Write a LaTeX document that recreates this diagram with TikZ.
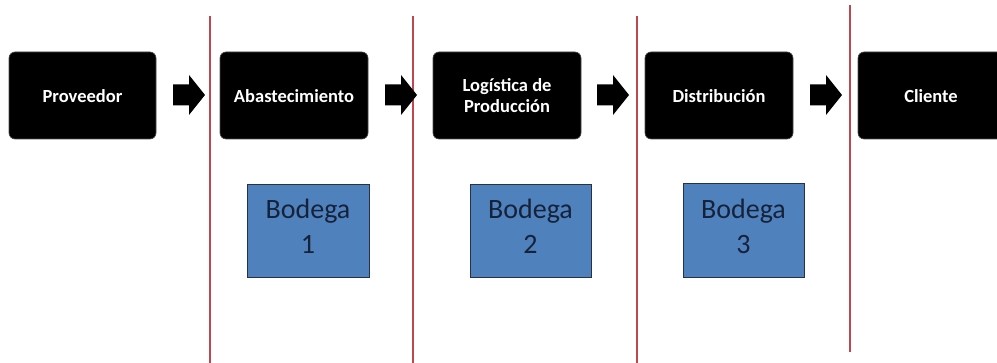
\documentclass[tikz,border=0pt]{standalone}
\usepackage{fontspec}
\setmainfont{Carlito}
\definecolor{sepred}{RGB}{192,70,80}
\definecolor{bodfill}{RGB}{79,129,189}
\definecolor{bodline}{RGB}{40,50,70}
\definecolor{bodtext}{RGB}{22,34,58}
\tikzset{
  stagebox/.style={fill=black, draw=black!70, line width=0.6pt, rounded corners=6pt},
  stagetext/.style={text=white, font=\fontsize{18.5}{21}\selectfont\bfseries, align=center},
  bodbox/.style={fill=bodfill, draw=bodline, line width=0.8pt},
  bodtxt/.style={text=bodtext, font=\fontsize{28}{35}\selectfont, align=center},
  sepline/.style={draw=sepred, line width=1.1pt},
  pics/blockarrow/.style={code={
    \fill[black] (0,-10.5) -- (16,-10.5) -- (16,-20) -- (32,0) -- (16,20) -- (16,10.5) -- (0,10.5) -- cycle;
  }}
}
\begin{document}
\begin{tikzpicture}[x=1pt,y=-1pt]
\useasboundingbox (0,0) rectangle (997,363);
% separator lines
\coordinate (s1a) at (210,16); \coordinate (s1b) at (210,363);
\coordinate (s2a) at (413,16); \coordinate (s2b) at (413,363);
\coordinate (s3a) at (637,16); \coordinate (s3b) at (637,363);
\coordinate (s4a) at (850,5);  \coordinate (s4b) at (850,352);
\draw[sepline] (s1a) -- (s1b);
\draw[sepline] (s2a) -- (s2b);
\draw[sepline] (s3a) -- (s3b);
\draw[sepline] (s4a) -- (s4b);
% stage boxes
\draw[stagebox] (9,52) rectangle (156,139);
\draw[stagebox] (220,52) rectangle (368,139);
\draw[stagebox] (433,52) rectangle (581,139);
\draw[stagebox] (645,52) rectangle (793,139);
\draw[stagebox] (858,52) rectangle (1010,139);
\node[stagetext] (prov) at (82.5,96) {Proveedor};
\node[stagetext] (abas) at (294,96) {Abastecimiento};
\node[stagetext] (logi) at (507,96) {Logística de\\Producción};
\node[stagetext] (dist) at (719,96) {Distribución};
\node[stagetext] (clie) at (931,96) {Cliente};
% block arrows
\pic at (173,95) {blockarrow};
\pic at (385,95) {blockarrow};
\pic at (597,95) {blockarrow};
\pic at (810,95) {blockarrow};
% bodegas
\draw[bodbox] (247,184) rectangle (369,277);
\draw[bodbox] (470,184) rectangle (591,277);
\draw[bodbox] (683,183) rectangle (804,277);
\node[bodtxt] (b1) at (308,226) {Bodega\\1};
\node[bodtxt] (b2) at (530.5,226) {Bodega\\2};
\node[bodtxt] (b3) at (743.5,226) {Bodega\\3};
\end{tikzpicture}
\end{document}
